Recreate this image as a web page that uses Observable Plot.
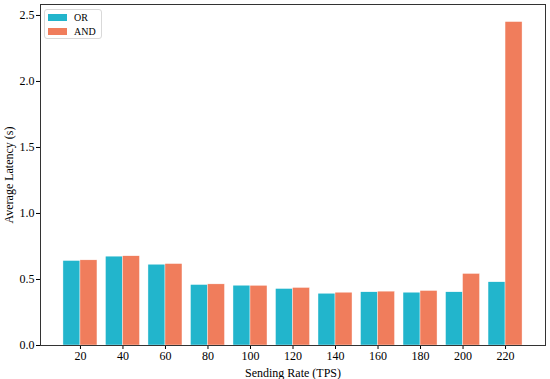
<!DOCTYPE html>
<html>
<head>
<meta charset="utf-8">
<script src="https://cdn.jsdelivr.net/npm/d3@7"></script>
<script src="https://cdn.jsdelivr.net/npm/@observablehq/plot@0.6"></script>
<style>
  html, body { margin: 0; padding: 0; background: #fff; }
  #wrap { position: relative; width: 550px; height: 379px; }
  #legend { position: absolute; left: 44px; top: 9px; background: #fff; border: 1px solid #d9d9d9; border-radius: 3px; padding: 0 5px 0 3px; font-family: 'Liberation Serif'; font-size: 10px; color: #000; }
  #legend .item { display: flex; align-items: center; height: 14px; font-family: 'Liberation Serif'; }
  #legend .sw { width: 19px; height: 7px; margin-right: 7px; }
  svg text { font-family: 'Liberation Serif' !important; }
</style>
</head>
<body>
<div id="wrap"><div id="legend"></div></div>
<script>
const categories = ["20","40","60","80","100","120","140","160","180","200","220"];
const series = ["OR","AND"];
const colors = ["#22b5cc","#f07d5c"];
const orValues  = [0.640,0.673,0.612,0.458,0.453,0.428,0.392,0.403,0.400,0.403,0.479];
const andValues = [0.645,0.676,0.617,0.463,0.452,0.436,0.400,0.408,0.413,0.542,2.45];
const yTicks = [0,0.5,1.0,1.5,2.0,2.5];
const barWidth = 0.4;
const FONT = "Liberation Serif";

const data = [];
categories.forEach((c,i) => {
  data.push({i, cat:c, series:"OR", value:orValues[i], x1:i-barWidth, x2:i});
  data.push({i, cat:c, series:"AND", value:andValues[i], x1:i, x2:i+barWidth});
});

const chart = Plot.plot({
  width: 550,
  height: 379,
  marginLeft: 40,
  marginRight: 5,
  marginTop: 4,
  marginBottom: 34,
  style: {fontFamily: FONT, fontSize: "12px", color: "#000", background: "#fff"},
  x: {type: "linear", domain: [-0.94, categories.length - 1 + 0.94]},
  y: {domain: [0, 2.583]},
  color: {domain: series, range: colors},
  marks: [
    Plot.rectY(data, {x1: "x1", x2: "x2", y: "value", fill: "series", stroke: "white", strokeWidth: 0.4, inset: 0}),
    Plot.axisX({ticks: categories.map((c,i)=>i), tickFormat: i => categories[i], tickSize: 4, tickPadding: 2, fontSize: 12, fontFamily: FONT,
      label: "Sending Rate (TPS)", labelAnchor: "center", labelOffset: 31, labelArrow: "none"}),
    Plot.axisY({ticks: yTicks, tickFormat: d => d.toFixed(1), tickSize: 4, tickPadding: 2, fontSize: 12, fontFamily: FONT,
      label: "Average Latency (s)", labelAnchor: "center", labelOffset: 36, labelArrow: "none"}),
    Plot.frame({stroke: "#333", strokeWidth: 1})
  ]
});
const wrap = document.getElementById("wrap");
wrap.insertBefore(chart, wrap.firstChild);

const legend = document.getElementById("legend");
series.forEach((s,k) => {
  const it = document.createElement("div");
  it.className = "item";
  const sw = document.createElement("span");
  sw.className = "sw";
  sw.style.background = colors[k];
  const t = document.createElement("span");
  t.textContent = s;
  it.appendChild(sw); it.appendChild(t);
  legend.appendChild(it);
});
</script>
</body>
</html>
